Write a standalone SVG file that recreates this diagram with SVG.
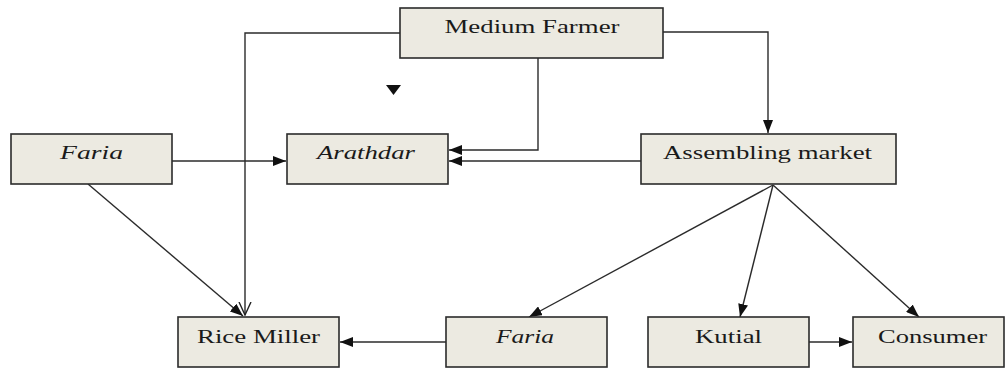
<svg xmlns="http://www.w3.org/2000/svg" width="1005" height="368" viewBox="0 0 1005 368">
<defs>
<style>
.box{fill:#ECEAE1;stroke:#2b2b2b;stroke-width:1.6}
.t{font-family:"Liberation Serif","Times New Roman",serif;font-size:19px;fill:#1a1a1a;text-anchor:middle}
.i{font-style:italic}
.c{fill:none;stroke:#2b2b2b;stroke-width:1.4}
</style>
<marker id="ah" markerUnits="userSpaceOnUse" markerWidth="14" markerHeight="10" refX="13" refY="5" orient="auto">
<path d="M0,0 L13,5 L0,10 Z" fill="#111"/>
</marker>
<marker id="av" markerUnits="userSpaceOnUse" markerWidth="14" markerHeight="14" refX="13" refY="7" orient="auto">
<path d="M0,1 L13,7 L0,13" fill="none" stroke="#222" stroke-width="1.4"/>
</marker>
</defs>
<rect width="1005" height="368" fill="#fff"/>
<g id="connectors">
<polyline class="c" points="400,33 245,33 245,315" marker-end="url(#av)"/>
<polyline class="c" points="538,58 538,150 449,150" marker-end="url(#ah)"/>
<line class="c" x1="641" y1="161" x2="449" y2="161" marker-end="url(#ah)"/>
<line class="c" x1="172" y1="161" x2="286" y2="161" marker-end="url(#ah)"/>
<polyline class="c" points="663,32 768,32 768,133" marker-end="url(#ah)"/>
<line class="c" x1="88" y1="184" x2="243" y2="316" marker-end="url(#ah)"/>
<line class="c" x1="773" y1="185" x2="529" y2="317" marker-end="url(#ah)"/>
<line class="c" x1="773" y1="185" x2="740" y2="317" marker-end="url(#ah)"/>
<line class="c" x1="773" y1="185" x2="919" y2="317" marker-end="url(#ah)"/>
<line class="c" x1="446" y1="342" x2="340" y2="342" marker-end="url(#ah)"/>
<line class="c" x1="809" y1="342" x2="852" y2="342" marker-end="url(#ah)"/>
<path d="M386,85 L401,85 L393.5,95 Z" fill="#111"/>
</g>
<g id="medium-farmer">
<rect class="box" x="400" y="8" width="263" height="50"/>
<text class="t" x="532" y="33" textLength="175" lengthAdjust="spacingAndGlyphs">Medium Farmer</text>
</g>
<g id="faria-left">
<rect class="box" x="11" y="134" width="161" height="50"/>
<text class="t i" x="91.5" y="159" textLength="63" lengthAdjust="spacingAndGlyphs">Faria</text>
</g>
<g id="arathdar">
<rect class="box" x="287" y="134" width="161" height="50"/>
<text class="t i" x="366" y="159" textLength="98" lengthAdjust="spacingAndGlyphs">Arathdar</text>
</g>
<g id="assembling-market">
<rect class="box" x="641" y="134" width="255" height="50"/>
<text class="t" x="767.5" y="159" textLength="209" lengthAdjust="spacingAndGlyphs">Assembling market</text>
</g>
<g id="rice-miller">
<rect class="box" x="178" y="317" width="161" height="50"/>
<text class="t" x="258.5" y="343" textLength="123" lengthAdjust="spacingAndGlyphs">Rice Miller</text>
</g>
<g id="faria-bottom">
<rect class="box" x="446" y="317" width="161" height="50"/>
<text class="t i" x="525" y="343" textLength="58" lengthAdjust="spacingAndGlyphs">Faria</text>
</g>
<g id="kutial">
<rect class="box" x="648" y="317" width="161" height="50"/>
<text class="t" x="728.5" y="343" textLength="67" lengthAdjust="spacingAndGlyphs">Kutial</text>
</g>
<g id="consumer">
<rect class="box" x="853" y="317" width="151" height="50"/>
<text class="t" x="932.5" y="343" textLength="109" lengthAdjust="spacingAndGlyphs">Consumer</text>
</g>
</svg>
